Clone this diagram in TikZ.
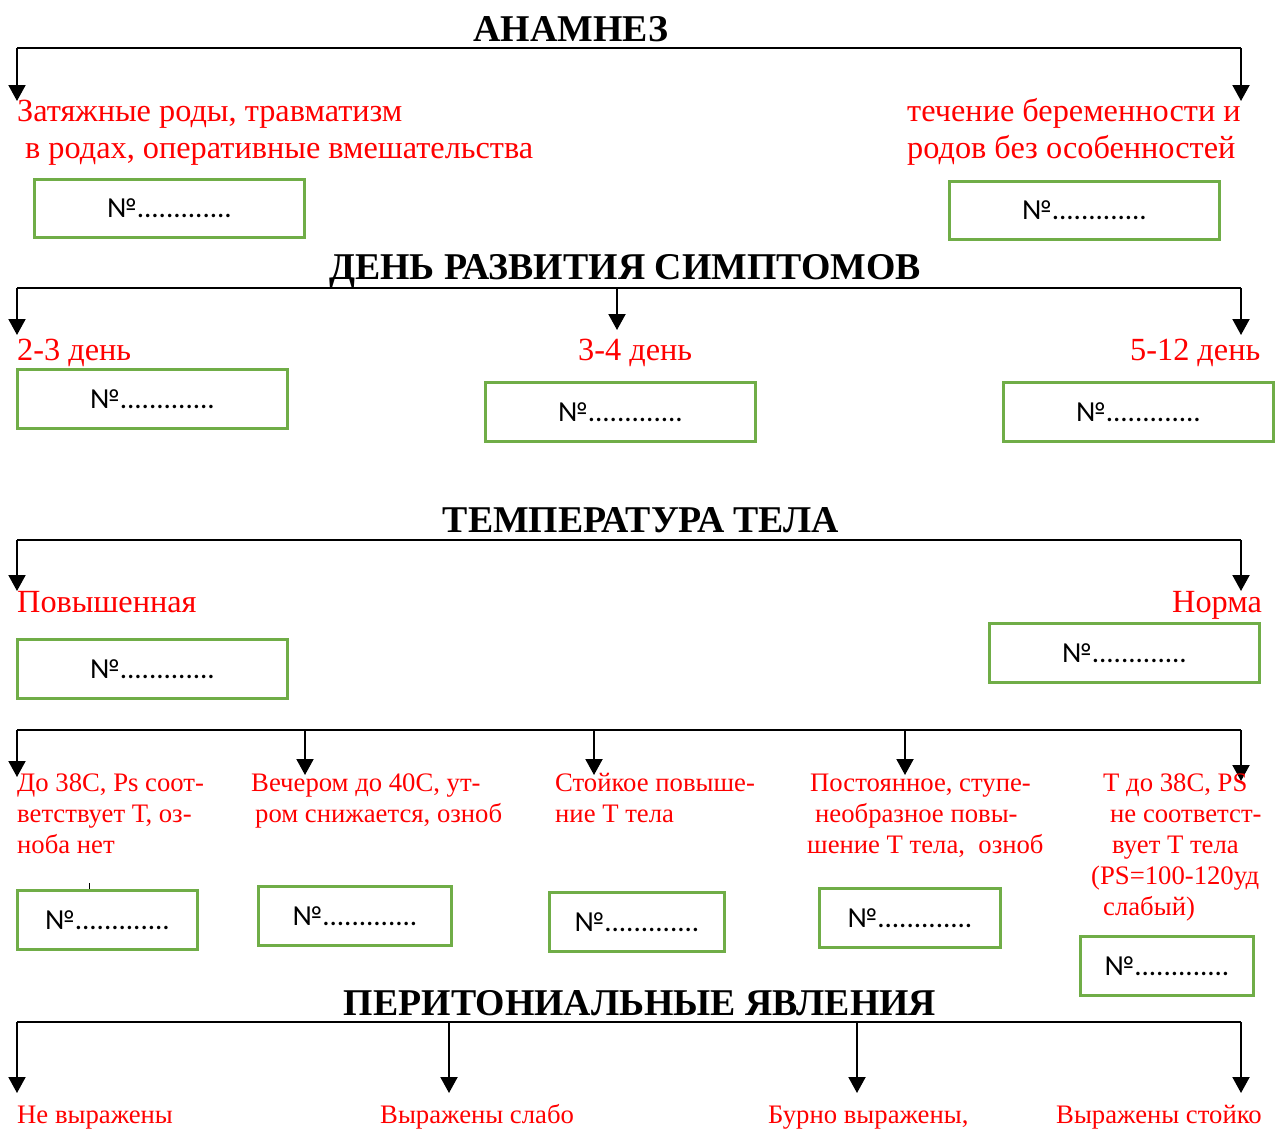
\documentclass[tikz,border=0pt]{standalone}
\usepackage{fontspec}
\setmainfont{Liberation Serif}
\newfontfamily\boxfont{Carlito}
\usetikzlibrary{arrows.meta}
\definecolor{boxgreen}{RGB}{112,173,71}
\definecolor{txtred}{RGB}{255,0,0}
\tikzset{
  bar/.style={line width=2.2pt},
  arr/.style={line width=2pt,-{Triangle[width=17pt,length=16pt]}},
  gbox/.style={draw=boxgreen,line width=3pt,font=\boxfont\fontsize{29}{32}\selectfont,inner sep=0pt},
  head/.style={font=\bfseries\fontsize{37.8}{42}\selectfont,inner sep=0pt,anchor=base},
  rbig/.style={text=txtred,font=\fontsize{32.3}{37}\selectfont,inner sep=0pt,anchor=base west},
  rsm/.style={text=txtred,font=\fontsize{26.7}{31}\selectfont,inner sep=0pt,anchor=base west},
}
\begin{document}
\begin{tikzpicture}[x=1pt,y=-1pt]
\useasboundingbox (0,0) rectangle (1275,1128);
\fill[white] (0,0) rectangle (1275,1128);

% ---------- АНАМНЕЗ ----------
\node[head] (h1) at (571,41) {АНАМНЕЗ};
\coordinate (a1l) at (17,48);
\coordinate (a1r) at (1241,48);
\coordinate (a1lt) at (17,101);
\coordinate (a1rt) at (1241,101);
\draw[bar] (a1l) -- (a1r);
\draw[arr] (a1l) -- (a1lt);
\draw[arr] (a1r) -- (a1rt);
\node[rbig] (t1a) at (17,121) {Затяжные роды, травматизм};
\node[rbig] (t1b) at (25,158) {в родах, оперативные вмешательства};
\node[rbig] (t2a) at (907,121) {течение беременности и};
\node[rbig] (t2b) at (907,158) {родов без особенностей};
\node[gbox,minimum width=270,minimum height=58] (b1) at (169.5,208.5) {№.............};
\node[gbox,minimum width=270,minimum height=58] (b2) at (1084.5,210.5) {№.............};

% ---------- ДЕНЬ РАЗВИТИЯ СИМПТОМОВ ----------
\node[head] (h2) at (625,279) {ДЕНЬ РАЗВИТИЯ СИМПТОМОВ};
\coordinate (d1l) at (17,288);
\coordinate (d1m) at (617,288);
\coordinate (d1r) at (1241,288);
\coordinate (d1lt) at (17,335);
\coordinate (d1mt) at (617,330);
\coordinate (d1rt) at (1241,335);
\draw[bar] (d1l) -- (d1r);
\draw[arr] (d1l) -- (d1lt);
\draw[arr] (d1m) -- (d1mt);
\draw[arr] (d1r) -- (d1rt);
\node[rbig] (t3) at (17,360) {2-3 день};
\node[rbig] (t4) at (578,360) {3-4 день};
\node[rbig] (t5) at (1130,360) {5-12 день};
\node[gbox,minimum width=270,minimum height=59] (b3) at (152.5,399) {№.............};
\node[gbox,minimum width=270,minimum height=59] (b4) at (620.5,412) {№.............};
\node[gbox,minimum width=270,minimum height=59] (b5) at (1138.5,412) {№.............};

% ---------- ТЕМПЕРАТУРА ТЕЛА ----------
\node[head] (h3) at (641,532) {ТЕМПЕРАТУРА ТЕЛА};
\coordinate (e1l) at (17,540);
\coordinate (e1r) at (1241,540);
\coordinate (e1lt) at (17,591);
\coordinate (e1rt) at (1241,591);
\draw[bar] (e1l) -- (e1r);
\draw[arr] (e1l) -- (e1lt);
\draw[arr] (e1r) -- (e1rt);
\node[rbig] (t6) at (17,612) {Повышенная};
\node[rbig] (t7) at (1172,612) {Норма};
\node[gbox,minimum width=270,minimum height=59] (b6) at (152.5,669) {№.............};
\node[gbox,minimum width=270,minimum height=59] (b7) at (1124.5,653) {№.............};

\coordinate (f1) at (17,730);
\coordinate (f2) at (305,730);
\coordinate (f3) at (594,730);
\coordinate (f4) at (905,730);
\coordinate (f5) at (1241,730);
\coordinate (f1t) at (17,777);
\coordinate (f2t) at (305,775);
\coordinate (f3t) at (594,775);
\coordinate (f4t) at (905,775);
\coordinate (f5t) at (1241,781);
\draw[bar] (f1) -- (f5);
\draw[arr] (f1) -- (f1t);
\draw[arr] (f2) -- (f2t);
\draw[arr] (f3) -- (f3t);
\draw[arr] (f4) -- (f4t);
\draw[arr] (f5) -- (f5t);

\node[rsm] (u1a) at (17,791) {До 38С, Ps соот-};
\node[rsm] (u1b) at (17,822) {ветствует Т, оз-};
\node[rsm] (u1c) at (17,853) {ноба нет};
\node[rsm] (u2a) at (251,791) {Вечером до 40С, ут-};
\node[rsm] (u2b) at (255,822) {ром снижается, озноб};
\node[rsm] (u3a) at (555,791) {Стойкое повыше-};
\node[rsm] (u3b) at (555,822) {ние Т тела};
\node[rsm] (u4a) at (810,791) {Постоянное, ступе-};
\node[rsm] (u4b) at (815,822) {необразное повы-};
\node[rsm] (u4c) at (807,853) {шение Т тела,\ \ озноб};
\node[rsm] (u5a) at (1103,791) {Т до 38С, PS};
\node[rsm] (u5b) at (1110,822) {не соответст-};
\node[rsm] (u5c) at (1112,853) {вует Т тела};
\node[rsm] (u5d) at (1091,884) {(PS=100-120уд};
\node[rsm] (u5e) at (1103,915) {слабый)};

\coordinate (tk1) at (89,883);
\coordinate (tk2) at (89,889);
\draw[line width=1pt] (tk1) -- (tk2);

\node[gbox,minimum width=180,minimum height=59] (b8) at (107.5,920) {№.............};
\node[gbox,minimum width=193,minimum height=59] (b9) at (355,916) {№.............};
\node[gbox,minimum width=175,minimum height=59] (b10) at (637,922) {№.............};
\node[gbox,minimum width=181,minimum height=59] (b11) at (910,918) {№.............};
\node[gbox,minimum width=173,minimum height=59] (b12) at (1167,966) {№.............};

% ---------- ПЕРИТОНИАЛЬНЫЕ ЯВЛЕНИЯ ----------
\node[head] (h4) at (640,1015) {ПЕРИТОНИАЛЬНЫЕ ЯВЛЕНИЯ};
\coordinate (p1) at (17,1022);
\coordinate (p2) at (449,1022);
\coordinate (p3) at (857,1022);
\coordinate (p4) at (1241,1022);
\coordinate (p1t) at (17,1093);
\coordinate (p2t) at (449,1093);
\coordinate (p3t) at (857,1093);
\coordinate (p4t) at (1241,1093);
\draw[bar] (p1) -- (p4);
\draw[arr] (p1) -- (p1t);
\draw[arr] (p2) -- (p2t);
\draw[arr] (p3) -- (p3t);
\draw[arr] (p4) -- (p4t);
\node[rsm] (v1) at (17,1123) {Не выражены};
\node[rsm] (v2) at (380,1123) {Выражены слабо};
\node[rsm] (v3) at (768,1123) {Бурно выражены,};
\node[rsm] (v4) at (1056,1123) {Выражены стойко};
\end{tikzpicture}
\end{document}
